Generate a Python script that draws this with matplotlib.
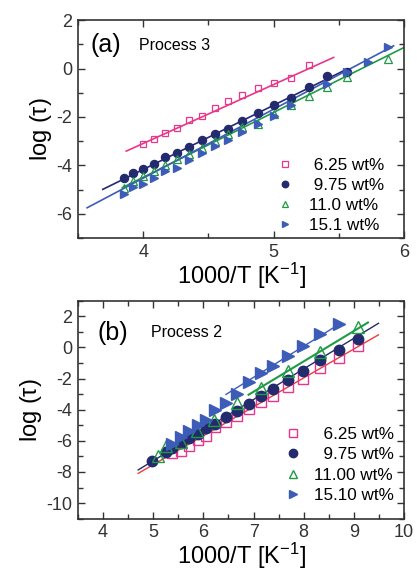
import numpy as np
import matplotlib
matplotlib.use("Agg")
import matplotlib.pyplot as plt
from matplotlib.ticker import MultipleLocator

plt.rcParams['font.family'] = ['Liberation Sans', 'DejaVu Sans']
plt.rcParams['mathtext.default'] = 'regular'
plt.rcParams['axes.unicode_minus'] = False

# ---- panel (a), process 3 ----
a_x625 = [4.00, 4.08, 4.17, 4.26, 4.35, 4.45, 4.55, 4.65, 4.76, 4.88, 5.00, 5.13, 5.27]
a_y625 = [-3.13, -2.92, -2.68, -2.44, -2.14, -1.96, -1.64, -1.34, -1.09, -0.81, -0.61, -0.37, 0.15]
a_x975 = [3.85, 3.92, 4.00, 4.08, 4.17, 4.26, 4.35, 4.45, 4.55, 4.65, 4.76, 4.88, 5.00, 5.13, 5.27, 5.41, 5.56]
a_y975 = [-4.51, -4.30, -4.14, -3.93, -3.64, -3.48, -3.24, -2.97, -2.72, -2.48, -2.17, -1.82, -1.50, -1.20, -0.76, -0.30, -0.14]
a_x110 = [3.85, 3.92, 4.00, 4.08, 4.17, 4.26, 4.35, 4.45, 4.55, 4.65, 4.76, 4.88, 5.00, 5.13, 5.27, 5.41, 5.56, 5.88]
a_y110 = [-4.95, -4.65, -4.44, -4.23, -4.00, -3.72, -3.54, -3.27, -3.00, -2.69, -2.41, -2.30, -1.86, -1.52, -1.13, -0.76, -0.34, 0.41]
a_x151 = [3.85, 3.92, 4.00, 4.08, 4.17, 4.26, 4.35, 4.45, 4.55, 4.65, 4.76, 4.88, 5.00, 5.13, 5.41, 5.56, 5.72, 5.88]
a_y151 = [-5.17, -4.90, -4.76, -4.51, -4.23, -4.10, -3.79, -3.48, -3.20, -2.97, -2.62, -2.30, -1.96, -1.52, -0.62, -0.14, 0.25, 0.90]
# fitted lines (end points)
a_fit625 = ([3.87, 5.46], [-3.41, 0.46])
a_fit975 = ([3.69, 5.56], [-4.99, -0.03])
a_fit110 = ([3.84, 6.00], [-4.92, 0.87])
a_fit151 = ([3.57, 5.92], [-5.75, 0.94])

# ---- panel (b), process 2 ----
b_x625 = [5.38, 5.55, 5.71, 5.90, 6.06, 6.23, 6.45, 6.66, 6.90, 7.15, 7.39, 7.69, 7.99, 8.33, 8.70, 9.09]
b_y625 = [-6.81, -6.64, -6.34, -5.96, -5.68, -5.11, -4.79, -4.43, -3.98, -3.51, -3.09, -2.55, -2.02, -1.32, -0.70, 0.06]
b_x975 = [4.98, 5.25, 5.38, 5.55, 5.71, 5.89, 6.06, 6.23, 6.45, 6.66, 6.90, 7.15, 7.39, 7.69, 7.99, 8.33, 8.70, 9.09]
b_y975 = [-7.28, -6.70, -6.45, -6.15, -5.85, -5.57, -5.15, -4.89, -4.47, -4.09, -3.62, -3.09, -2.66, -2.09, -1.53, -0.79, -0.15, 0.57]
b_x110 = [5.10, 5.25, 5.55, 5.87, 6.22, 6.66, 7.15, 7.69, 8.33, 9.09]
b_y110 = [-6.96, -6.35, -6.10, -5.38, -4.68, -3.57, -2.62, -1.49, -0.32, 1.32]
b_x151 = [5.38, 5.55, 5.71, 5.89, 6.06, 6.23, 6.45, 6.66, 6.90, 7.15, 7.39, 7.69, 7.99, 8.33, 8.70]
b_y151 = [-6.21, -5.74, -5.36, -5.00, -4.64, -4.04, -3.55, -2.98, -2.23, -1.66, -1.17, -0.53, 0.11, 0.85, 1.49]
b_fit625 = ([4.70, 9.49], [-8.09, 0.81])
b_fit975 = ([4.70, 9.49], [-7.87, 1.55])
b_fit110 = ([6.90, 9.28], [-3.04, 1.60])
b_fit151 = ([6.45, 8.65], [-3.02, 1.38])

a_labels = [' 6.25 wt%', ' 9.75 wt%', '11.0 wt%', '15.1 wt%']
b_labels = ['  6.25 wt%', '  9.75 wt%', '11.00 wt%', '15.10 wt%']

pink = '#e8378a'
navy = '#232a6e'
green = '#1f9a45'
blue = '#3c5cb8'
red = '#f03a3a'

fig = plt.figure(figsize=(4.17, 5.75), dpi=100)
ax1 = fig.add_axes([0.187, 0.586, 0.782, 0.379])
ax2 = fig.add_axes([0.187, 0.098, 0.782, 0.379])


def style(ax, xlim, ylim, xmaj, ymaj):
    ax.set_xlim(*xlim)
    ax.set_ylim(*ylim)
    ax.xaxis.set_major_locator(MultipleLocator(xmaj))
    ax.xaxis.set_minor_locator(MultipleLocator(0.5))
    ax.yaxis.set_major_locator(MultipleLocator(ymaj))
    ax.yaxis.set_minor_locator(MultipleLocator(1))
    ax.tick_params(which='both', direction='in', top=True, right=True,
                   labelsize=13, colors='#333333', width=1)
    ax.tick_params(which='major', length=5, pad=4)
    ax.tick_params(which='minor', length=3.5)
    for s in ax.spines.values():
        s.set_linewidth(1.2)
        s.set_color('#333333')
    ax.set_xlabel('1000/T [K$^{-1}$]', fontsize=17, labelpad=0)
    ax.set_ylabel(r'log ($\tau$)', fontsize=17, labelpad=2)


# panel (a)
ax1.plot(*a_fit625, color=pink, lw=1.2)
ax1.plot(*a_fit975, color=navy, lw=1.2)
ax1.plot(*a_fit110, color=green, lw=1.2)
ax1.plot(*a_fit151, color=blue, lw=1.2)
ax1.plot(a_x625, a_y625, 's', ms=4.8, mfc='none', mec=pink, mew=0.9, label=a_labels[0])
ax1.plot(a_x975, a_y975, 'o', ms=5.8, color=navy, mec=navy, label=a_labels[1])
ax1.plot(a_x110, a_y110, '^', ms=5.8, mfc='none', mec=green, mew=0.9, label=a_labels[2])
ax1.plot(a_x151, a_y151, '>', ms=5.8, color=blue, mec=blue, label=a_labels[3])
style(ax1, (3.5, 6), (-7, 2), 1, 2)
ax1.text(0.037, 0.885, '(a)', transform=ax1.transAxes, fontsize=18, va='center')
ax1.text(0.187, 0.885, 'Process 3', transform=ax1.transAxes, fontsize=11.5, va='center')
ax1.legend(loc='lower right', bbox_to_anchor=(0.96, -0.008), frameon=False, fontsize=12.3,
           handletextpad=0.8, labelspacing=0.3, handlelength=1.2, borderaxespad=0,
           markerscale=0.8)

# panel (b)
ax2.plot(*b_fit625, color=red, lw=1.0)
ax2.plot(*b_fit975, color=navy, lw=1.0)
ax2.plot(*b_fit110, color=green, lw=1.5)
ax2.plot(*b_fit151, color=blue, lw=1.0)
ax2.plot(b_x625, b_y625, 's', ms=6.5, mfc='none', mec=pink, mew=1.0, label=b_labels[0])
ax2.plot(b_x975, b_y975, 'o', ms=7.5, color=navy, mec=navy, label=b_labels[1])
ax2.plot(b_x110, b_y110, '^', ms=8, mfc='none', mec=green, mew=1.0, label=b_labels[2])
ax2.plot(b_x151, b_y151, '>', ms=8, color=blue, mec=blue, label=b_labels[3])
style(ax2, (3.5, 10), (-11, 3), 1, 2)
ax2.text(0.061, 0.852, '(b)', transform=ax2.transAxes, fontsize=18, va='center')
ax2.text(0.223, 0.852, 'Process 2', transform=ax2.transAxes, fontsize=11.5, va='center')
ax2.legend(loc='lower right', bbox_to_anchor=(0.99, 0.042), frameon=False, fontsize=12.3,
           handletextpad=0.6, labelspacing=0.3, handlelength=1.2, borderaxespad=0,
           markerscale=0.8)

fig.savefig('out.png', dpi=100)
